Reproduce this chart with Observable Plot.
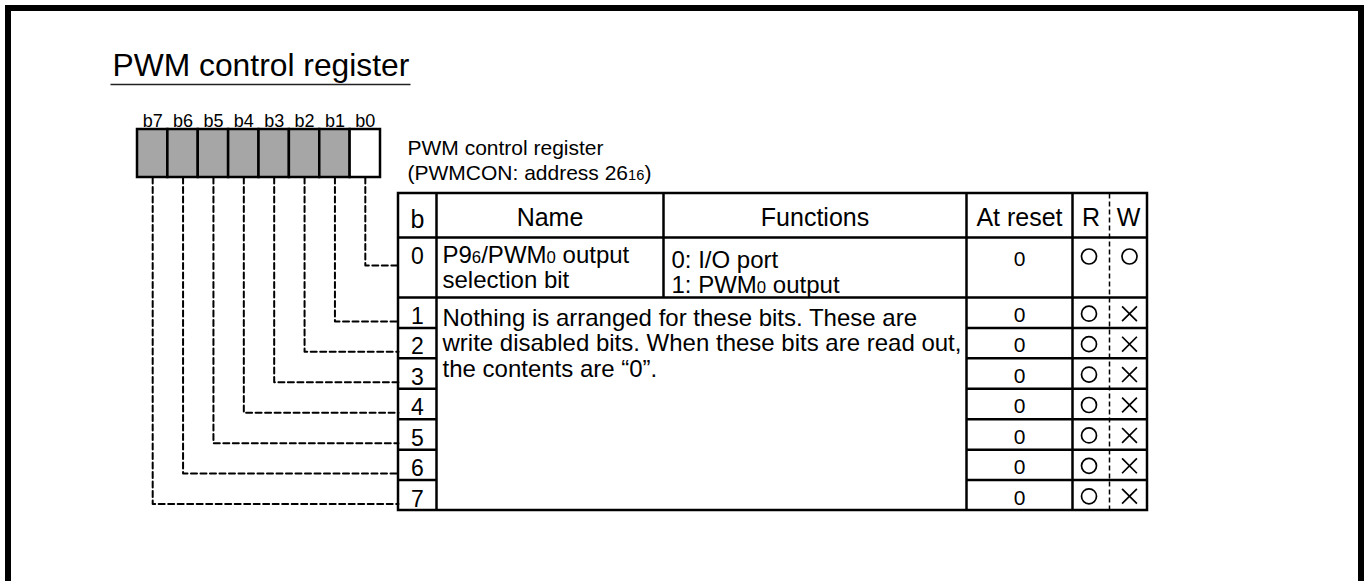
<!DOCTYPE html>
<html>
<head>
<meta charset="utf-8">
<script src="https://cdn.jsdelivr.net/npm/d3@7"></script>
<script src="https://cdn.jsdelivr.net/npm/@observablehq/plot@0.6"></script>
<style>
  html, body { margin: 0; padding: 0; background: #fff; overflow: hidden; }
  #chart svg { display: block; }
</style>
</head>
<body>
<div id="chart"></div>
<script>
// ---------------- data ----------------
const title = "PWM control register";
const registerLabel = ["PWM control register", "(PWMCON: address 26₁₆)"];
const bitLabels = ["b7", "b6", "b5", "b4", "b3", "b2", "b1", "b0"];
const bitNumbers = [7, 6, 5, 4, 3, 2, 1, 0];
const bitAssigned = [false, false, false, false, false, false, false, true];
const headers = ["b", "Name", "Functions", "At reset", "R", "W"];
const tableBits = [0, 1, 2, 3, 4, 5, 6, 7];
const bit0Name = ["P9₆/PWM₀ output", "selection bit"];
const bit0Functions = ["0: I/O port", "1: PWM₀ output"];
const unusedNote = [
  "Nothing is arranged for these bits. These are",
  "write disabled bits. When these bits are read out,",
  "the contents are “0”."
];
const resetValues = [0, 0, 0, 0, 0, 0, 0, 0];
const readAccess = ["O", "O", "O", "O", "O", "O", "O", "O"];
const writeAccess = ["O", "X", "X", "X", "X", "X", "X", "X"];

// ---------------- layout ----------------
const W = 1370, H = 581;
const FONT = "'Liberation Sans', Arial, Helvetica, sans-serif";
const L = {
  frame: {x1: 8, x2: 1361, y1: 8, y2: 660},
  title: {x: 112, y: 75, ux1: 110, ux2: 410, uy: 84},
  reg: {x0: 137, cw: 30.375, y1: 129, y2: 177, labelY: 126},
  label: {x: 407, y: 179},
  cols: [398, 436, 663, 966, 1072, 1109, 1147],
  headTop: 193, headBot: 237, row0Bot: 297, tableBot: 510
};
const rowH = (L.tableBot - L.row0Bot) / 7;
const rowTop = b => b === 0 ? L.headBot : L.row0Bot + (b - 1) * rowH;
const rowBot = b => b === 0 ? L.row0Bot : L.row0Bot + b * rowH;
const colMid = i => (L.cols[i] + L.cols[i + 1]) / 2;

// register cells
const cells = bitLabels.map((lab, i) => ({
  lab, bit: bitNumbers[i],
  x1: L.reg.x0 + i * L.reg.cw, x2: L.reg.x0 + (i + 1) * L.reg.cw,
  xm: L.reg.x0 + (i + 0.5) * L.reg.cw,
  fill: bitAssigned[i] ? "#ffffff" : "#a6a6a6"
}));

// dashed connectors
const connectors = tableBits.flatMap(b => {
  const c = cells.find(d => d.bit === b);
  const yc = b === 0 ? rowTop(0) + 28 : rowBot(b) - 6.5;
  return [
    {b, x: c.xm, y: L.reg.y2},
    {b, x: c.xm, y: yc},
    {b, x: L.cols[0], y: yc}
  ];
});

// table grid segments
const [c0, c1, c2, c3, c4, c5, c6] = L.cols;
const solid = [
  {x1: c0, x2: c6, y1: L.headBot, y2: L.headBot},
  {x1: c0, x2: c6, y1: L.row0Bot, y2: L.row0Bot},
  ...tableBits.filter(b => b >= 1 && b <= 6).flatMap(b => [
    {x1: c0, x2: c1, y1: rowBot(b), y2: rowBot(b)},
    {x1: c3, x2: c6, y1: rowBot(b), y2: rowBot(b)}
  ]),
  {x1: c1, x2: c1, y1: L.headTop, y2: L.tableBot},
  {x1: c2, x2: c2, y1: L.headTop, y2: L.row0Bot},
  {x1: c3, x2: c3, y1: L.headTop, y2: L.tableBot},
  {x1: c4, x2: c4, y1: L.headTop, y2: L.tableBot}
];
const dashed = [{x1: c5, x2: c5, y1: L.headTop, y2: L.tableBot}];

const headerRows = headers.map((h, i) => ({h, x: colMid(i), y: i === 0 ? 227 : 225}));
const bRows = tableBits.map(b => ({b, x: colMid(0), y: b === 0 ? 263 : rowBot(b) - 4}));
const resetRows = tableBits.map(b => ({v: resetValues[b], x: colMid(3), y: b === 0 ? 265 : rowBot(b) - 6}));
const symY = b => b === 0 ? 256 : (rowTop(b) + rowBot(b)) / 2 + 1;
const rRows = tableBits.map(b => ({a: readAccess[b], x: colMid(4) - 2, y: symY(b)}));
const wRows = tableBits.map(b => ({a: writeAccess[b], x: colMid(5) + 1, y: symY(b)}));

const txt = {fontFamily: FONT, fill: "black"};

const svg = Plot.plot({
  width: W, height: H, margin: 0,
  x: {domain: [0, W], axis: null},
  y: {domain: [0, H], reverse: true, axis: null},
  color: {type: "identity"},
  style: {background: "white", fontFamily: FONT},
  marks: [
    // outer frame
    Plot.rect([L.frame], {x1: "x1", x2: "x2", y1: "y1", y2: "y2", fill: "none", stroke: "black", strokeWidth: 6}),
    // title + underline
    Plot.text([title], {...txt, text: d => d, x: () => L.title.x, y: () => L.title.y, textAnchor: "start", lineAnchor: "bottom", fontSize: 31.8}),
    Plot.link([L.title], {x1: "ux1", x2: "ux2", y1: "uy", y2: "uy", stroke: "#222", strokeWidth: 1.5}),
    // register cells
    Plot.rect(cells, {x1: "x1", x2: "x2", y1: () => L.reg.y1, y2: () => L.reg.y2, fill: "fill", stroke: "black", strokeWidth: 2.5}),
    Plot.text(cells, {...txt, text: "lab", x: "xm", y: () => L.reg.labelY, lineAnchor: "bottom", fontSize: 18}),
    // register label
    Plot.text([registerLabel.join("\n")], {...txt, text: d => d, x: () => L.label.x, y: () => L.label.y, textAnchor: "start", lineAnchor: "bottom", fontSize: 21, lineHeight: 25 / 21}),
    // connectors
    Plot.line(connectors, {x: "x", y: "y", z: "b", stroke: "black", strokeWidth: 2, strokeDasharray: "6,3.5"}),
    // table frame and grid
    Plot.rect([{x1: c0, x2: c6, y1: L.headTop, y2: L.tableBot}], {x1: "x1", x2: "x2", y1: "y1", y2: "y2", fill: "none", stroke: "black", strokeWidth: 2.5}),
    Plot.link(solid, {x1: "x1", x2: "x2", y1: "y1", y2: "y2", stroke: "black", strokeWidth: 2.5}),
    Plot.link(dashed, {x1: "x1", x2: "x2", y1: "y1", y2: "y2", stroke: "black", strokeWidth: 1.5, strokeDasharray: "5,3"}),
    // header
    Plot.text(headerRows, {...txt, text: "h", x: "x", y: "y", lineAnchor: "bottom", fontSize: 25}),
    // bit numbers
    Plot.text(bRows, {...txt, text: d => String(d.b), x: "x", y: "y", lineAnchor: "bottom", fontSize: 23}),
    // bit 0 name / functions
    Plot.text([bit0Name.join("\n")], {...txt, text: d => d, x: () => 442, y: () => 287, textAnchor: "start", lineAnchor: "bottom", fontSize: 24, lineHeight: 25 / 24}),
    Plot.text([bit0Functions.join("\n")], {...txt, text: d => d, x: () => 671, y: () => 292, textAnchor: "start", lineAnchor: "bottom", fontSize: 24, lineHeight: 25 / 24}),
    // unused bits note
    Plot.text([unusedNote.join("\n")], {...txt, text: d => d, x: () => 442, y: () => 376, textAnchor: "start", lineAnchor: "bottom", fontSize: 24, lineHeight: 25.5 / 24}),
    // reset values
    Plot.text(resetRows, {...txt, text: d => String(d.v), x: "x", y: "y", lineAnchor: "bottom", fontSize: 21}),
    // R / W
    Plot.dot(rRows.filter(d => d.a === "O"), {x: "x", y: "y", r: 7.5, symbol: "circle", stroke: "black", strokeWidth: 1.7, fill: "none"}),
    Plot.dot(wRows.filter(d => d.a === "O"), {x: "x", y: "y", r: 7.5, symbol: "circle", stroke: "black", strokeWidth: 1.7, fill: "none"}),
    Plot.dot(wRows.filter(d => d.a === "X"), {x: "x", y: "y", r: 6.8, symbol: "times", stroke: "black", strokeWidth: 1.7, fill: "none"})
  ]
});

// render subscript digits (₀-₉) as smaller digits on the baseline
const SVGNS = "http://www.w3.org/2000/svg";
const subDigits = "₀₁₂₃₄₅₆₇₈₉";
const walker = document.createTreeWalker(svg, NodeFilter.SHOW_TEXT);
const textNodes = [];
while (walker.nextNode()) textNodes.push(walker.currentNode);
for (const node of textNodes) {
  const s = node.nodeValue;
  if (!/[₀-₉]/.test(s)) continue;
  const frag = document.createDocumentFragment();
  for (const m of s.matchAll(/([₀-₉]+)|([^₀-₉]+)/g)) {
    if (m[1]) {
      const t = document.createElementNS(SVGNS, "tspan");
      t.setAttribute("font-size", "70%");
      t.textContent = [...m[1]].map(c => subDigits.indexOf(c)).join("");
      frag.appendChild(t);
    } else {
      frag.appendChild(document.createTextNode(m[2]));
    }
  }
  node.parentNode.replaceChild(frag, node);
}

document.getElementById("chart").appendChild(svg);
</script>
</body>
</html>
